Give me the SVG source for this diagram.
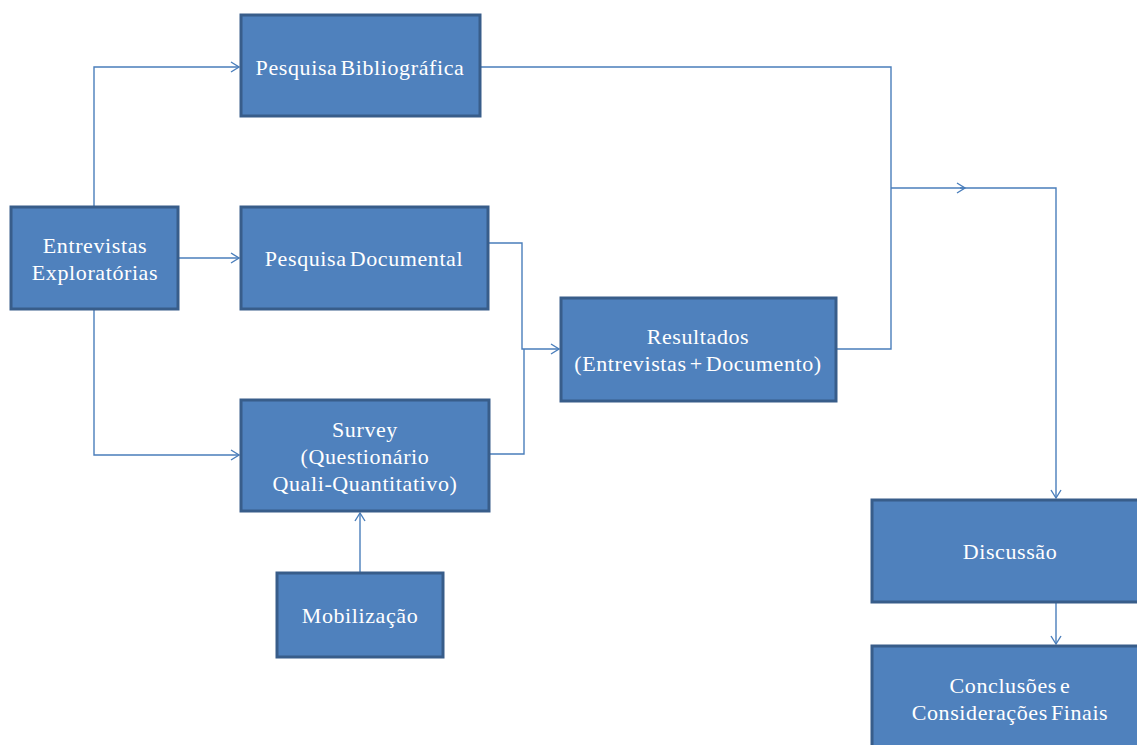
<svg xmlns="http://www.w3.org/2000/svg" width="1137" height="745" viewBox="0 0 1137 745">
<defs>
<marker id="arr" markerUnits="userSpaceOnUse" markerWidth="14" markerHeight="14" refX="10" refY="6" orient="auto">
<path d="M2,1 L10,6 L2,11" fill="none" stroke="#4a7ebb" stroke-width="1.4"/>
</marker>
<style>
.box{fill:#4f81bd;stroke:#385d8a;stroke-width:3}
.t{font-family:"Liberation Serif","Times New Roman",serif;font-size:22px;fill:#ffffff;text-anchor:middle;letter-spacing:0.6px;word-spacing:-3px}
.c{fill:none;stroke:#4a7ebb;stroke-width:1.4}
</style>
</defs>
<rect width="1137" height="745" fill="#ffffff"/>
<g id="connectors">
<path class="c" d="M94,207 V67 H239" marker-end="url(#arr)"/>
<path class="c" d="M178,258 H239" marker-end="url(#arr)"/>
<path class="c" d="M94,309 V455 H239" marker-end="url(#arr)"/>
<path class="c" d="M488,243 H522 V349 H559" marker-end="url(#arr)"/>
<path class="c" d="M489,454 H524 V349"/>
<path class="c" d="M360,573 V513" marker-end="url(#arr)"/>
<path class="c" d="M480,67 H891 V349 H836"/>
<path class="c" d="M891,188 H965" marker-end="url(#arr)"/>
<path class="c" d="M960,188 H1056 V498" marker-end="url(#arr)"/>
<path class="c" d="M1056,602 V644" marker-end="url(#arr)"/>
</g>
<g id="n-entrevistas">
<rect class="box" x="11" y="207" width="167" height="102"/>
<text class="t" x="95" y="253">Entrevistas</text>
<text class="t" x="95" y="280">Exploratórias</text>
</g>
<g id="n-bibliografica">
<rect class="box" x="241" y="15" width="239" height="101"/>
<text class="t" x="360" y="75">Pesquisa Bibliográfica</text>
</g>
<g id="n-documental">
<rect class="box" x="241" y="207" width="247" height="102"/>
<text class="t" x="364" y="266">Pesquisa Documental</text>
</g>
<g id="n-survey">
<rect class="box" x="241" y="400" width="248" height="111"/>
<text class="t" x="365" y="437">Survey</text>
<text class="t" x="365" y="464">(Questionário</text>
<text class="t" x="365" y="491">Quali-Quantitativo)</text>
</g>
<g id="n-mobilizacao">
<rect class="box" x="277" y="573" width="166" height="84"/>
<text class="t" x="360" y="623">Mobilização</text>
</g>
<g id="n-resultados">
<rect class="box" x="561" y="298" width="275" height="103"/>
<text class="t" x="698" y="344">Resultados</text>
<text class="t" x="698" y="371">(Entrevistas + Documento)</text>
</g>
<g id="n-discussao">
<rect class="box" x="872" y="500" width="276" height="102"/>
<text class="t" x="1010" y="559">Discussão</text>
</g>
<g id="n-conclusoes">
<rect class="box" x="872" y="646" width="276" height="110"/>
<text class="t" x="1010" y="693">Conclusões e</text>
<text class="t" x="1010" y="720">Considerações Finais</text>
</g>
</svg>
